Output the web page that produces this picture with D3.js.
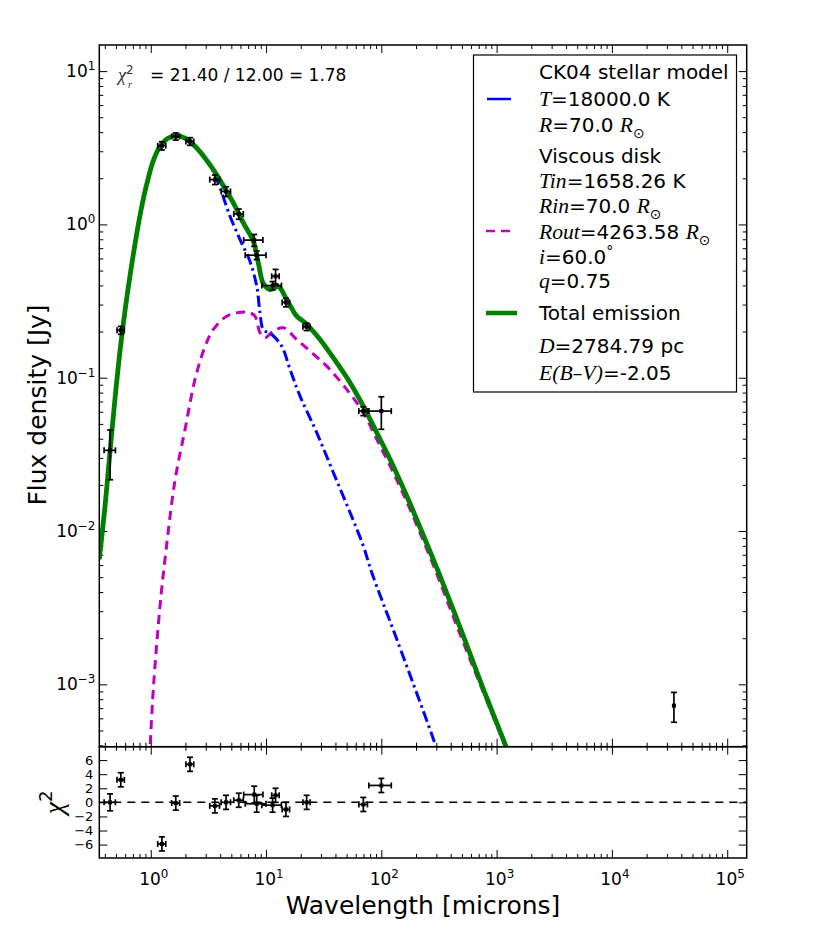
<!DOCTYPE html>
<html><head><meta charset="utf-8">
<script src="https://cdn.jsdelivr.net/npm/d3@7"></script>
<style>body{margin:0;background:#fff}svg{display:block}</style>
</head><body><svg id="c" width="830" height="934"></svg>
<script>
// ---------- data ----------
const totalWave = [0.3582,0.4015,0.4436,0.4901,0.5418,0.5987,0.6614,0.7563,0.8355,0.9232,1.053,1.204,1.421,1.681,1.984,2.422,2.900,3.491,4.263,5.205,6.357,7.762,8.574,9.475,10.83,12.79,15.12,18.46,21.79,29.39,41.04,53.54,69.81,91.24,119.0,166.1,231.4,322.9,514.2,766.8,1183,1307];
const totalFlux = [0.006551,0.01457,0.03311,0.07331,0.1506,0.2745,0.4638,0.8711,1.306,1.830,2.604,3.227,3.660,3.789,3.660,3.236,2.765,2.275,1.789,1.381,1.023,0.7761,0.5613,0.4114,0.3760,0.3916,0.3236,0.2520,0.2282,0.1776,0.1252,0.09278,0.06531,0.04383,0.02937,0.01693,0.009389,0.005097,0.002073,0.000932,0.0004084,0.000336];

const starWave = [0.3582,0.4015,0.4436,0.4901,0.5418,0.5987,0.6614,0.7563,0.8355,0.9232,1.053,1.204,1.421,1.681,1.984,2.422,2.900,3.491,3.990,4.873,5.952,7.263,8.306,8.872,9.475,11.21,13.69,16.15,19.72,27.53,38.35,53.54,69.81,82.55,136.0,292.3,310.3];
const starFlux = [0.006551,0.01457,0.03311,0.07331,0.1506,0.2744,0.4636,0.8705,1.304,1.826,2.596,3.210,3.640,3.762,3.615,3.200,2.740,2.208,1.737,1.129,0.7962,0.5723,0.3952,0.2651,0.2064,0.1914,0.1606,0.1133,0.07588,0.04383,0.02405,0.01320,0.007995,0.005364,0.001973,0.0004084,0.0003514];

const diskWave = [0.9763,1.053,1.204,1.330,1.624,1.984,2.422,2.958,3.491,4.562,6.156,7.263,8.028,8.872,9.802,11.57,14.13,18.46,24.07,33.61,50.11,69.81,91.24,127.1,177.4,282.5,481.5,747.0,1143,1256];
const diskFlux = [0.0003261,0.000932,0.003251,0.006551,0.02143,0.04604,0.09748,0.1599,0.2064,0.2520,0.2676,0.2644,0.2520,0.1964,0.1823,0.2012,0.2117,0.1776,0.1491,0.1190,0.08391,0.05916,0.03963,0.02405,0.01387,0.005987,0.002127,0.000932,0.0004209,0.0003411];

const obsWave    = [0.444,0.55,1.25,1.65,2.19,3.6,4.5,5.8,7.9,8.3,11.4,12.1,14.9,22.5,69.8,100,34500];
const obsFlux    = [0.0336,0.204,3.26,3.75,3.48,1.96,1.64,1.17,0.79,0.63,0.399,0.459,0.31,0.215,0.0606,0.0606,0.000726];
const obsWaveErr = [0.05,0.04,0.10,0.13,0.17,0.35,0.42,0.55,1.5,1.7,2.2,0.9,1.1,1.6,6,22,0];
const obsFluxErr = [0.012,0.012,0.2,0.2,0.2,0.14,0.12,0.09,0.07,0.04,0.025,0.05,0.02,0.012,0.004,0.0145,0.00016];

const resWave    = [0.444,0.55,1.25,1.65,2.19,3.6,4.5,5.8,7.9,8.3,11.4,12.1,14.9,22.5,69.8,100];
const resWaveErr = [0.05,0.04,0.10,0.13,0.17,0.35,0.42,0.55,1.5,1.7,2.2,0.9,1.1,1.6,6,22];
const resValue   = [0.0,3.2,-5.9,-0.1,5.4,-0.5,0.0,0.3,1.1,-0.2,-0.4,1.0,-1.0,0.0,-0.3,2.4];
const resErr     = [1.2,1.0,1.0,1.0,1.0,1.0,1.0,1.0,1.2,1.2,1.0,1.0,1.0,1.0,1.0,1.0];

const xTickExps = [0,1,2,3,4,5];
const yTickExps = [1,0,-1,-2,-3];
const resTicks  = [6,4,2,0,-2,-4,-6];

// ---------- layout ----------
const SANS = "'DejaVu Sans', sans-serif";
const SERIF = "'Liberation Serif', serif";
const L = 99.3, R = 746.7, T = 45, MB = 746.7, RB = 858;
const svg = d3.select('#c');

const x = d3.scaleLog().domain([0.358, 1.476e5]).range([L, R]);
const y = d3.scaleLog().domain([3.92e-4, 14.8]).range([MB, T]);
const yr = d3.scaleLinear().domain([-7.9, 7.9]).range([RB, MB]);

svg.append('defs').append('clipPath').attr('id','clipMain')
  .append('rect').attr('x',L).attr('y',T).attr('width',R-L).attr('height',MB-T);

const xMinor = [], yMinor = [];
for (let k=-1;k<=5;k++) for (let m=2;m<=9;m++){ const v=m*Math.pow(10,k); if(v>=x.domain()[0]&&v<=x.domain()[1]) xMinor.push(v);}
for (let k=-4;k<=1;k++) for (let m=2;m<=9;m++){ const v=m*Math.pow(10,k); if(v>=y.domain()[0]&&v<=y.domain()[1]) yMinor.push(v);}
const xMajor = xTickExps.map(e=>Math.pow(10,e));
const yMajor = yTickExps.map(e=>Math.pow(10,e));

function ticks(axisFn, scale, vals, size, tr){
  const g = svg.append('g').attr('transform',tr)
    .call(axisFn(scale).tickValues(vals).tickSize(size).tickFormat(''));
  g.select('.domain').remove();
  g.selectAll('line').attr('stroke','#000').attr('stroke-width',1);
  return g;
}
ticks(d3.axisBottom, x, xMajor, -8, `translate(0,${MB})`);
ticks(d3.axisBottom, x, xMinor, -4, `translate(0,${MB})`);
ticks(d3.axisTop, x, xMajor, -8, `translate(0,${T})`);
ticks(d3.axisTop, x, xMinor, -4, `translate(0,${T})`);
ticks(d3.axisLeft, y, yMajor, -8, `translate(${L},0)`);
ticks(d3.axisLeft, y, yMinor, -4, `translate(${L},0)`);
ticks(d3.axisRight, y, yMajor, -8, `translate(${R},0)`);
ticks(d3.axisRight, y, yMinor, -4, `translate(${R},0)`);
ticks(d3.axisBottom, x, xMajor, -8, `translate(0,${RB})`);
ticks(d3.axisBottom, x, xMinor, -4, `translate(0,${RB})`);
ticks(d3.axisTop, x, xMajor, -8, `translate(0,${MB})`);
ticks(d3.axisTop, x, xMinor, -4, `translate(0,${MB})`);
ticks(d3.axisLeft, yr, resTicks, -8, `translate(${L},0)`);
ticks(d3.axisRight, yr, resTicks, -8, `translate(${R},0)`);

function rich(g, px, py, parts, size, anchor){
  const t = g.append('text').attr('x',px).attr('y',py).attr('font-size',size)
    .attr('text-anchor',anchor||'start').attr('font-family',SANS).attr('fill','#000');
  let cur = 0;
  parts.forEach(p=>{
    const s = t.append('tspan').text(p.t);
    const shift = p.sup ? -0.42*size : (p.sub ? 0.28*size : 0);
    if (shift-cur !== 0) s.attr('dy', shift-cur);
    cur = shift;
    if (p.dx) s.attr('dx', p.dx);
    if (p.sup||p.sub) s.attr('font-size', size*0.7);
    if (p.it){ s.attr('font-family',SERIF).attr('font-style','italic'); if(!(p.sup||p.sub)) s.attr('font-size',size*1.08); }
  });
  return t;
}

// tick labels
const TL = 17;
yTickExps.forEach(e=>{
  rich(svg, L-4, y(Math.pow(10,e))+6, [{t:'10'},{t:(e<0?'\u2212':'')+Math.abs(e),sup:true}], TL, 'end');
});
xTickExps.forEach(e=>{
  rich(svg, x(Math.pow(10,e))+3, RB+27, [{t:'10'},{t:String(e),sup:true}], TL, 'middle');
});
resTicks.forEach(v=>{
  svg.append('text').attr('x',L-6).attr('y',yr(v)+4.5).attr('text-anchor','end')
    .attr('font-family',SANS).attr('font-size',13).text((v<0?'\u2212':'')+Math.abs(v));
});

// axis labels
svg.append('text').attr('transform',`translate(46,405) rotate(-90)`).attr('text-anchor','middle')
  .attr('font-family',SANS).attr('font-size',25).text('Flux density [Jy]');
svg.append('text').attr('x',423).attr('y',914).attr('text-anchor','middle')
  .attr('font-family',SANS).attr('font-size',25).text('Wavelength [microns]');
const chiLab = svg.append('g').attr('transform',`translate(63,${yr(0)}) rotate(-90)`);
rich(chiLab, 0, 0, [{t:'\u03c7',it:true},{t:'2',sup:true}], 26, 'middle');

// curves
const line = d3.line().x(d=>x(d[0])).y(d=>y(d[1])).curve(d3.curveCatmullRom.alpha(0.5));
const cg = svg.append('g').attr('clip-path','url(#clipMain)');
cg.append('path').datum(diskWave.map((w,i)=>[w,diskFlux[i]])).attr('d',line)
  .attr('fill','none').attr('stroke','#bf00bf').attr('stroke-width',3).attr('stroke-dasharray','9,6');
cg.append('path').datum(starWave.map((w,i)=>[w,starFlux[i]])).attr('d',line)
  .attr('fill','none').attr('stroke','#0000ff').attr('stroke-width',3).attr('stroke-dasharray','11,4,2.5,4');
cg.append('path').datum(totalWave.map((w,i)=>[w,totalFlux[i]])).attr('d',line)
  .attr('fill','none').attr('stroke','#008000').attr('stroke-width',4.8).attr('stroke-linejoin','round');

// error bars
function errbars(g, xs, ys, xe, ye, xsc, ysc){
  xs.forEach((w,i)=>{
    const cx = xsc(w), cy = ysc(ys[i]);
    const gg = g.append('g').attr('stroke','#000').attr('stroke-width',1.7);
    if (xe[i]>0){
      const x0 = xsc(w-xe[i]), x1 = xsc(w+xe[i]);
      gg.append('line').attr('x1',x0).attr('x2',x1).attr('y1',cy).attr('y2',cy);
      gg.append('line').attr('x1',x0).attr('x2',x0).attr('y1',cy-3).attr('y2',cy+3);
      gg.append('line').attr('x1',x1).attr('x2',x1).attr('y1',cy-3).attr('y2',cy+3);
    }
    if (ye[i]>0){
      const y0 = ysc(ys[i]-ye[i]), y1 = ysc(ys[i]+ye[i]);
      gg.append('line').attr('x1',cx).attr('x2',cx).attr('y1',y0).attr('y2',y1);
      gg.append('line').attr('x1',cx-3).attr('x2',cx+3).attr('y1',y0).attr('y2',y0);
      gg.append('line').attr('x1',cx-3).attr('x2',cx+3).attr('y1',y1).attr('y2',y1);
    }
    g.append('rect').attr('x',cx-2).attr('y',cy-2).attr('width',4).attr('height',4).attr('fill','#000');
  });
}
errbars(svg.append('g'), obsWave, obsFlux, obsWaveErr, obsFluxErr, x, y);

svg.append('line').attr('x1',L).attr('x2',R).attr('y1',yr(0)).attr('y2',yr(0))
  .attr('stroke','#000').attr('stroke-width',1.5).attr('stroke-dasharray','8,6');
errbars(svg.append('g'), resWave, resValue, resWaveErr, resErr, x, yr);

// frames
svg.append('rect').attr('x',L).attr('y',T).attr('width',R-L).attr('height',MB-T)
  .attr('fill','none').attr('stroke','#000').attr('stroke-width',1.5);
svg.append('rect').attr('x',L).attr('y',MB).attr('width',R-L).attr('height',RB-MB)
  .attr('fill','none').attr('stroke','#000').attr('stroke-width',1.5);

// chi-square text
rich(svg, 118, 81, [{t:'\u03c7',it:true},{t:'2',sup:true}], 17, 'start').attr('fill','#333');
rich(svg, 128, 84, [{t:'r',it:true,sub:true}], 14, 'start').attr('fill','#333');
svg.append('text').attr('x',150).attr('y',81).attr('font-family',SANS).attr('font-size',17)
  .text('= 21.40 / 12.00 = 1.78');

// legend
const lg = svg.append('g');
lg.append('rect').attr('x',473.5).attr('y',55).attr('width',263).attr('height',337)
  .attr('fill','#fff').attr('stroke','#000').attr('stroke-width',1.2);
lg.append('line').attr('x1',487).attr('x2',511).attr('y1',99).attr('y2',99).attr('stroke','#0000ff').attr('stroke-width',2.5);
lg.append('line').attr('x1',486).attr('x2',516).attr('y1',231).attr('y2',231).attr('stroke','#bf00bf').attr('stroke-width',2.5).attr('stroke-dasharray','9,6');
lg.append('line').attr('x1',486).attr('x2',517).attr('y1',313).attr('y2',313).attr('stroke','#008000').attr('stroke-width',4.5);
const LS = 20, LX = 539;
const legendLines = [
  [72,[{t:'CK04 stellar model'}]],
  [99,[{t:'T',it:true},{t:'=18000.0 K'}]],
  [125,[{t:'R',it:true},{t:'=70.0 '},{t:'R',it:true},{t:'\u2299',sub:true}]],
  [156,[{t:'Viscous disk'}]],
  [181,[{t:'Tin',it:true},{t:'=1658.26 K'}]],
  [206,[{t:'Rin',it:true},{t:'=70.0 '},{t:'R',it:true},{t:'\u2299',sub:true}]],
  [232,[{t:'Rout',it:true},{t:'=4263.58 '},{t:'R',it:true},{t:'\u2299',sub:true}]],
  [257,[{t:'i',it:true},{t:'=60.0'},{t:'\u00b0',sup:true}]],
  [281,[{t:'q',it:true},{t:'=0.75'}]],
  [313,[{t:'Total emission'}]],
  [346,[{t:'D',it:true},{t:'=2784.79 pc'}]],
  [373,[{t:'E',it:true},{t:'(',it:true},{t:'B',it:true},{t:'\u2013'},{t:'V',it:true},{t:')',it:true},{t:'=-2.05'}]]
];
legendLines.forEach(([ly,parts])=>rich(lg, LX, ly+7, parts, LS, 'start'));
</script></body></html>
